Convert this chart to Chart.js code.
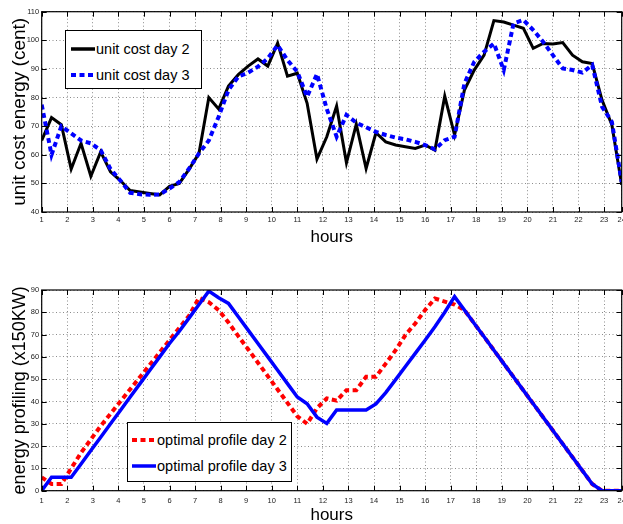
<!DOCTYPE html>
<html>
<head>
<meta charset="utf-8">
<script src="https://cdn.jsdelivr.net/npm/chart.js@4/dist/chart.umd.min.js"></script>
<style>
    body { margin: 0; background: #fff; }
    #wrap { position: relative; width: 623px; height: 524px; font-family: "Liberation Sans", Arial, sans-serif; }
    #wrap canvas { position: absolute; left: 0; }
    .legend { position: absolute; background: #fff; border: 1px solid #000; box-sizing: border-box; font-size: 14.5px; color: #000; }
    .legend .row { position: absolute; left: 0; height: 20px; width: 100%; }
    .legend svg { position: absolute; top: 0; }
    .legend span { position: absolute; top: 1px; white-space: nowrap; line-height: 18px; }
</style>
</head>
<body>
<div id="wrap">
    <canvas id="costChart" width="623" height="262" style="top:0"></canvas>
    <canvas id="profileChart" width="623" height="262" style="top:262px"></canvas>

    <div class="legend" style="left:65px; top:30px; width:137px; height:59px;">
        <div class="row" style="top:8px">
            <svg width="24" height="20" style="left:5px"><line x1="0" y1="10" x2="24" y2="10" stroke="#000" stroke-width="3.5"/></svg>
            <span style="left:30px">unit cost day 2</span>
        </div>
        <div class="row" style="top:34px">
            <svg width="24" height="20" style="left:5px"><line x1="0" y1="10" x2="24" y2="10" stroke="#0000ff" stroke-width="4" stroke-dasharray="5 3.5"/></svg>
            <span style="left:30px">unit cost day 3</span>
        </div>
    </div>

    <div class="legend" style="left:127px; top:422px; width:165px; height:60px;">
        <div class="row" style="top:7px">
            <svg width="24" height="20" style="left:4px"><line x1="0" y1="10" x2="24" y2="10" stroke="#ff0000" stroke-width="4" stroke-dasharray="5 3.5"/></svg>
            <span style="left:29px">optimal profile day 2</span>
        </div>
        <div class="row" style="top:33px">
            <svg width="24" height="20" style="left:4px"><line x1="0" y1="10" x2="24" y2="10" stroke="#0000ff" stroke-width="3.5"/></svg>
            <span style="left:29px">optimal profile day 3</span>
        </div>
    </div>
</div>

<script>
// 横轴刻度标签（最后一个刻度放在轴的末端）
const hourLabels = ['1','2','3','4','5','6','7','8','9','10','11','12','13','14','15','16','17','18','19','20','21','22','23','24'];
const hourTicks = [1,2,3,4,5,6,7,8,9,10,11,12,13,14,15,16,17,18,19,20,21,22,23,23.69];

// 60个采样点，均匀分布在轴上
const sampleCount = 60;
const xFirst = 1;
const xLast = 23.69;

// 单位电价 (cent)
const costDay2 = [
    65, 73, 70.5, 55, 64, 52.5, 61, 54, 51, 47.5,
    47, 46.5, 46, 49, 50, 55, 60.5, 80, 76, 84,
    88, 91, 93.5, 91, 99, 87.5, 88.5, 78, 58.5, 66.3,
    77, 57.2, 70.7, 55.2, 67.7, 64.5, 63.4, 62.8, 62.2, 63.4,
    61.6, 80.5, 66.9, 82.6, 89.6, 94.8, 106.9, 106.4, 105.3, 104.2,
    97.2, 98.9, 98.7, 99.2, 94.8, 92.5, 91.9, 79.1, 70.4, 49.5
];
const costDay3 = [
    77.5, 60, 70, 67.5, 65, 64, 61.6, 55, 51, 46.7,
    46.2, 46, 46.1, 48.2, 50.5, 55.2, 60.5, 65, 73.3, 82.6,
    87.3, 88.7, 90.8, 93.7, 98.3, 93.1, 89, 80.3, 88.2, 76,
    66.3, 73.9, 71.2, 69.6, 68, 66.9, 66, 65.4, 64.5, 63.4,
    61.9, 65.1, 66.3, 84.9, 92.5, 96, 98.9, 89.6, 105.9, 107.1,
    103.6, 99.5, 94.8, 90.2, 89.6, 88.7, 91.4, 76.8, 71.5, 50.5
];

// 最优能量曲线 (x150KW)
const profileDay2 = [
    6, 3, 3, 10, 17, 23, 29, 34.5, 40, 45.5,
    51, 56.5, 62, 67.5, 73, 78.5, 86.5, 84.5, 81, 75.4,
    69.3, 63.4, 57.4, 51.4, 45.4, 39.4, 33.4, 30, 37, 41.4,
    40.4, 45.1, 45.1, 51.1, 51.1, 57, 63, 69.8, 75, 81,
    86.2, 84.8, 83.5, 81, 75, 69, 63, 57, 51, 45,
    39, 33, 27, 21, 15, 9, 3, 0, 0, 0
];
const profileDay3 = [
    0, 6, 6, 6, 12, 18, 24, 30, 36, 42,
    48, 54, 60, 66, 71.5, 77.5, 83.5, 89.5, 86.5, 84,
    78, 72, 66, 60, 54, 48, 42, 39, 33, 30.2,
    36.2, 36.2, 36.2, 36.2, 38.9, 44, 49.8, 55.7, 61.6, 67.5,
    73.5, 80, 87, 81, 75, 69, 63, 57, 51, 45,
    39, 33, 27, 21, 15, 9, 3, 0, 0, 0
];

const costTicks = [40, 50, 60, 70, 80, 90, 100, 110];
const profileTicks = [0, 10, 20, 30, 40, 50, 60, 70, 80, 90];

const sampleX = Array.from({ length: sampleCount }, (_, i) => xFirst + i * (xLast - xFirst) / (sampleCount - 1));
const toPoints = (values) => values.map((v, i) => ({ x: sampleX[i], y: v }));

// MATLAB风格的外框和朝内的刻度线
const boxPlugin = {
    id: 'matlabBox',
    afterDraw(chart) {
        const { ctx, chartArea: a, scales: { x, y } } = chart;
        ctx.save();
        ctx.strokeStyle = '#000';
        ctx.lineWidth = 1;
        ctx.beginPath();
        x.ticks.forEach(t => {
            const px = Math.round(x.getPixelForValue(t.value)) + 0.5;
            ctx.moveTo(px, a.bottom); ctx.lineTo(px, a.bottom - 5);
            ctx.moveTo(px, a.top); ctx.lineTo(px, a.top + 5);
        });
        y.ticks.forEach(t => {
            const py = Math.round(y.getPixelForValue(t.value)) + 0.5;
            ctx.moveTo(a.left, py); ctx.lineTo(a.left + 5, py);
            ctx.moveTo(a.right, py); ctx.lineTo(a.right - 5, py);
        });
        ctx.stroke();
        ctx.lineWidth = 1.2;
        ctx.strokeRect(a.left, a.top, a.right - a.left, a.bottom - a.top);
        ctx.restore();
    }
};

function makeChart(canvasId, opts) {
    const family = '"Liberation Sans", Arial, sans-serif';
    const tickFont = { family, size: 7.5 };
    const gridStyle = { color: 'rgba(0,0,0,0.45)', lineWidth: 1, drawTicks: false };

    return new Chart(document.getElementById(canvasId), {
        type: 'line',
        data: { datasets: opts.datasets },
        options: {
            responsive: false,
            devicePixelRatio: 1,
            animation: false,
            layout: { padding: { top: opts.padTop, right: 1.3, bottom: 0, left: 0 } },
            plugins: { legend: { display: false }, tooltip: { enabled: false } },
            elements: { point: { radius: 0 }, line: { tension: 0 } },
            scales: {
                x: {
                    type: 'linear',
                    min: xFirst,
                    max: xLast,
                    grid: gridStyle,
                    border: { display: false, dash: [1, 2.5] },
                    ticks: {
                        autoSkip: false,
                        maxRotation: 0,
                        padding: opts.xTickPad,
                        color: '#222',
                        font: tickFont,
                        callback: (value, index) => hourLabels[index]
                    },
                    afterBuildTicks: (scale) => {
                        scale.ticks = hourTicks.map(v => ({ value: v }));
                    },
                    afterFit: (scale) => {
                        scale.height = opts.xAxisHeight;
                        scale.paddingLeft = 0;
                        scale.paddingRight = 0;
                    },
                    title: {
                        display: true,
                        text: 'hours',
                        color: '#000',
                        font: { family, size: 17, lineHeight: 1 },
                        padding: { top: 0, bottom: opts.xTitlePad }
                    }
                },
                y: {
                    min: opts.yTicks[0],
                    max: opts.yTicks[opts.yTicks.length - 1],
                    grid: gridStyle,
                    border: { display: false, dash: [1, 2.5] },
                    ticks: {
                        stepSize: 10,
                        padding: 2.5,
                        color: '#222',
                        font: tickFont
                    },
                    afterBuildTicks: (scale) => {
                        scale.ticks = opts.yTicks.map(v => ({ value: v }));
                    },
                    afterFit: (scale) => {
                        scale.width = 41.7;
                        scale.paddingTop = 0;
                        scale.paddingBottom = 0;
                    },
                    title: {
                        display: true,
                        text: opts.yTitle,
                        color: '#000',
                        font: { family, size: opts.yTitleSize, lineHeight: 1 },
                        padding: { top: opts.yTitlePad, bottom: 0 }
                    }
                }
            }
        },
        plugins: [boxPlugin]
    });
}

// 上图：单位电价
makeChart('costChart', {
    padTop: 11.7,
    xAxisHeight: 50,
    xTickPad: 3.5,
    xTitlePad: 16.5,
    yTicks: costTicks,
    yTitle: 'unit cost energy (cent)',
    yTitleSize: 19,
    yTitlePad: 10,
    datasets: [
        { label: 'unit cost day 2', data: toPoints(costDay2), borderColor: '#000', borderWidth: 3, order: 1 },
        { label: 'unit cost day 3', data: toPoints(costDay3), borderColor: '#0000ff', borderWidth: 4, borderDash: [5, 3.5], order: 0 }
    ]
});

// 下图：最优能量曲线
makeChart('profileChart', {
    padTop: 28,
    xAxisHeight: 33.3,
    xTickPad: 5.5,
    xTitlePad: 0,
    yTicks: profileTicks,
    yTitle: 'energy profiling (x150KW)',
    yTitleSize: 18,
    yTitlePad: 11,
    datasets: [
        { label: 'optimal profile day 2', data: toPoints(profileDay2), borderColor: '#ff0000', borderWidth: 4, borderDash: [5, 3.5], order: 1 },
        { label: 'optimal profile day 3', data: toPoints(profileDay3), borderColor: '#0000ff', borderWidth: 3.5, order: 0 }
    ]
});
</script>
</body>
</html>
